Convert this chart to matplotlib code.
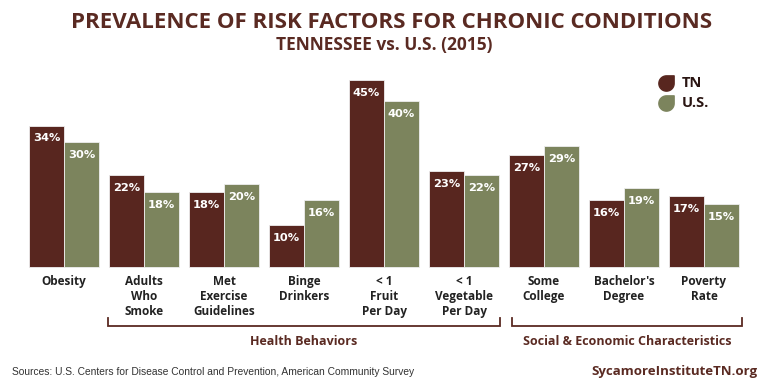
import matplotlib
matplotlib.use('Agg')
import matplotlib.pyplot as plt
from matplotlib.path import Path
import numpy as np

plt.rcParams['font.family'] = ['Open Sans', 'DejaVu Sans']

# data
categories = ['Obesity', 'Adults\nWho\nSmoke', 'Met\nExercise\nGuidelines', 'Binge\nDrinkers',
              '< 1\nFruit\nPer Day', '< 1\nVegetable\nPer Day', 'Some\nCollege',
              "Bachelor's\nDegree", 'Poverty\nRate']
tn = [34, 22, 18, 10, 45, 23, 27, 16, 17]
us = [30, 18, 20, 16, 40, 22, 29, 19, 15]
groups = ['Health Behaviors', 'Social & Economic Characteristics']

C = {'tn': '#58261f', 'us': '#7c845d', 'title': '#5a2a22', 'text': '#222222'}

fig = plt.figure(figsize=(7.68, 3.84), dpi=100)
ax = fig.add_axes([0, 0, 1, 1])
ax.axis('off')
# 80 px per group, 4.15 px per percent, baseline at y=117 px from bottom
ax.set_xlim(-64 / 80, (768 - 64) / 80)
ax.set_ylim(-117.3 / 4.15, (384 - 117.3) / 4.15)

x = np.arange(len(categories))
w = 35 / 80
b1 = ax.bar(x - w / 2, tn, w, color=C['tn'], edgecolor='#eeeeee', linewidth=0.6)
b2 = ax.bar(x + w / 2, us, w, color=C['us'], edgecolor='#eeeeee', linewidth=0.6)

for bars in (b1, b2):
    for r in bars:
        ax.text(r.get_x() + r.get_width() / 2, r.get_height() - 1.9, f'{r.get_height():.0f}%',
                ha='center', va='top', color='white', fontsize=8.2, fontweight='bold',
                family=['DejaVu Sans'])

for i, lab in enumerate(categories):
    ax.text(i, -2.0, lab, ha='center', va='top', fontsize=8.5, fontweight='bold',
            color=C['text'], linespacing=1.2)

# brackets (in pixel coords)
def bracket(x0, x1, label):
    tr = ax.transData.inverted()
    (ax0, ay0) = tr.transform((x0, 384 - 318))
    (ax1, ay1) = tr.transform((x1, 384 - 326))
    ax.plot([ax0, ax0, ax1, ax1], [ay0, ay1, ay1, ay0], color=C['title'], lw=1.3,
            solid_joinstyle='miter')
    ax.text((ax0 + ax1) / 2, ay1 - 2.2, label, ha='center', va='top', fontsize=9,
            fontweight='bold', color=C['title'])

bracket(108, 500, groups[0])
bracket(512, 742, groups[1])

# legend with leaf markers
theta = np.linspace(np.pi / 2, 2 * np.pi, 40)
verts = list(zip(np.cos(theta), np.sin(theta))) + [(1, 1), (0, 1)]
leaf = Path(verts + [(0, 1)], [Path.MOVETO] + [Path.LINETO] * (len(verts) - 1) + [Path.CLOSEPOLY])
for yy, col, lab in [(83, C['tn'], 'TN'), (103, C['us'], 'U.S.')]:
    ax.plot([666 / 768], [1 - yy / 384], marker=leaf, markersize=11, color=col,
            transform=fig.transFigure, linestyle='none')
    fig.text(682 / 768, 1 - yy / 384, lab, ha='left', va='center', fontsize=10.5,
             fontweight='bold', color='#2a1512')

fig.text(0.510, 1 - 22 / 384, 'PREVALENCE OF RISK FACTORS FOR CHRONIC CONDITIONS', ha='center',
         va='center', fontsize=16, fontweight='bold', color=C['title'])
fig.text(0.5, 1 - 45 / 384, 'TENNESSEE vs. U.S. (2015)', ha='center', va='center',
         fontsize=12.5, fontweight='bold', color=C['title'])

fig.text(12 / 768, 1 - 372 / 384, 'Sources: U.S. Centers for Disease Control and Prevention, American Community Survey',
         ha='left', va='center', fontsize=7.4, color='#333333', family=['Liberation Sans', 'DejaVu Sans'])
fig.text(757 / 768, 1 - 372 / 384, 'SycamoreInstituteTN.org', ha='right', va='center',
         fontsize=9.5, fontweight='bold', color=C['title'])

fig.savefig('out.png', dpi=100, facecolor='white')
